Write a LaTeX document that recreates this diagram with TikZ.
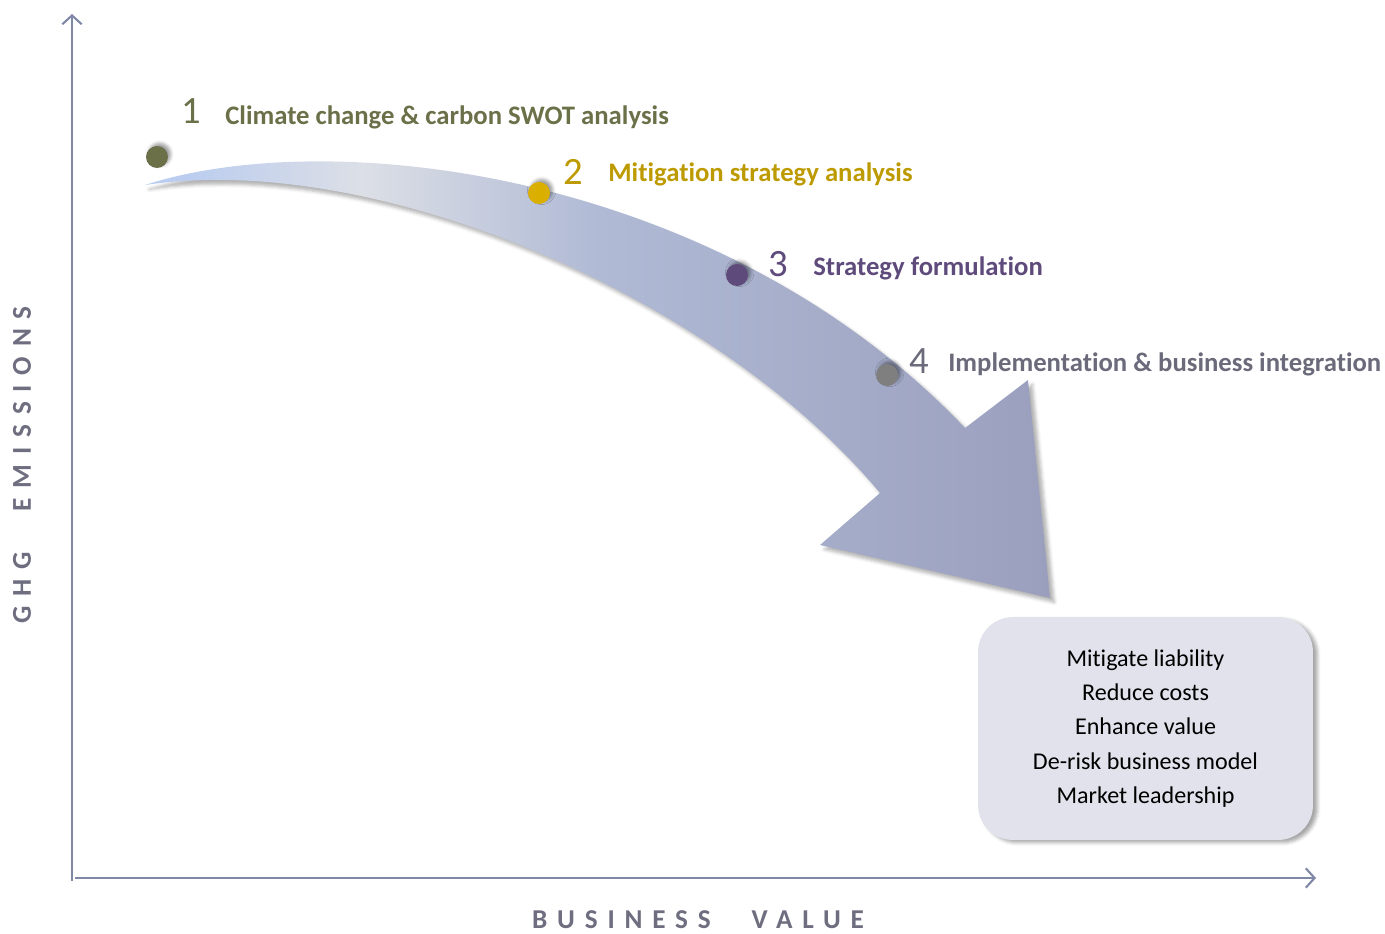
\documentclass[tikz,border=0pt]{standalone}
\usepackage{fontspec}
\setmainfont{Carlito}[Ligatures=CommonOff]
\usetikzlibrary{arrows.meta,shadows.blur}

\definecolor{axisgrey}{HTML}{8088A8}
\definecolor{labelgrey}{HTML}{6E6E80}
\definecolor{stepone}{HTML}{6B7049}
\definecolor{steptwo}{HTML}{DBAF00}
\definecolor{steptwotext}{HTML}{BD9A00}
\definecolor{stepthree}{HTML}{5F4B7B}
\definecolor{stepfour}{HTML}{7F7F7F}
\definecolor{stepfourtext}{HTML}{6A6A7A}
\definecolor{tailblue}{HTML}{BACCEF}
\definecolor{fadegrey}{HTML}{DCDFE6}
\definecolor{bandblue}{HTML}{B0BAD5}
\definecolor{headblue}{HTML}{9A9FBD}
\definecolor{boxfill}{HTML}{E1E2EB}

\pgfdeclarehorizontalshading{bandshade}{100bp}{color(0bp)=(tailblue); color(27bp)=(tailblue); color(37bp)=(fadegrey); color(50bp)=(bandblue); color(75bp)=(headblue); color(100bp)=(headblue)}

\begin{document}
\begin{tikzpicture}[x=0.02cm, y=-0.02cm,
    axis/.style={axisgrey, line width=1.2pt, -{Straight Barb[length=5pt,width=11pt]}},
    dot/.style={circle, minimum size=0.44cm, inner sep=0pt, blur shadow={shadow xshift=1.5pt, shadow yshift=1.5pt, shadow opacity=40}},
    num/.style={anchor=base west, inner sep=0pt, font=\fontsize{22}{24}\selectfont},
    steplabel/.style={anchor=base west, inner sep=0pt, font=\fontsize{15.2}{17}\selectfont\bfseries},
    axislabel/.style={labelgrey, inner sep=0pt, font=\fontsize{15.5}{16}\selectfont\bfseries\addfontfeature{LetterSpace=36}},
    gainbox/.style={fill=boxfill, rounded corners=0.7cm, minimum width=6.7cm, minimum height=4.46cm, align=center, font=\fontsize{13.7}{19.6}\selectfont, blur shadow={shadow xshift=2.5pt, shadow yshift=-1.5pt, shadow opacity=35}}]
    \useasboundingbox (0,0) rectangle (1385,933);

    % axes
    \coordinate (origin) at (72,881);
    \coordinate (ytop) at (72,14);
    \coordinate (xstart) at (75,878);
    \coordinate (xend) at (1316,878);
    \draw[axis] (origin) -- (ytop);
    \draw[axis] (xstart) -- (xend);
    \node[axislabel, rotate=90] (ylab) at (22,465) {GHG\quad\enspace EMISSIONS};
    \node[axislabel] (xlab) at (698,920) {BUSINESS\quad\enspace VALUE};

    % curved arrow
    \shade[shading=bandshade, blur shadow={shadow xshift=2.5pt, shadow yshift=-2.5pt, shadow opacity=30}]
        (145,185) .. controls (330,125) and (720,170) .. (965,428)
        -- (1028,380) -- (1050,598) -- (820,545) -- (880,493)
        .. controls (720,300) and (380,150) .. (145,185) -- cycle;

    % steps
    \node[dot, fill=stepone] (dotA) at (157,157) {};
    \node[num, stepone] (numA) at (181,123) {1};
    \node[steplabel, stepone] (labA) at (225,124) {Climate change \& carbon SWOT analysis};

    \node[dot, fill=steptwo] (dotB) at (539,193) {};
    \node[num, steptwotext] (numB) at (563,184) {2};
    \node[steplabel, steptwotext] (labB) at (608,181) {Mitigation strategy analysis};

    \node[dot, fill=stepthree] (dotC) at (737,275) {};
    \node[num, stepthree] (numC) at (768,276) {3};
    \node[steplabel, stepthree] (labC) at (813,275) {Strategy formulation};

    \node[dot, fill=stepfour] (dotD) at (887,375) {};
    \node[num, stepfourtext] (numD) at (909,373) {4};
    \node[steplabel, stepfourtext] (labD) at (948,371) {Implementation \& business integration};

    % outcome box
    \node[gainbox] (gains) at (1145.5,728.5) {Mitigate liability\\Reduce costs\\Enhance value\\De-risk business model\\Market leadership};
\end{tikzpicture}
\end{document}
